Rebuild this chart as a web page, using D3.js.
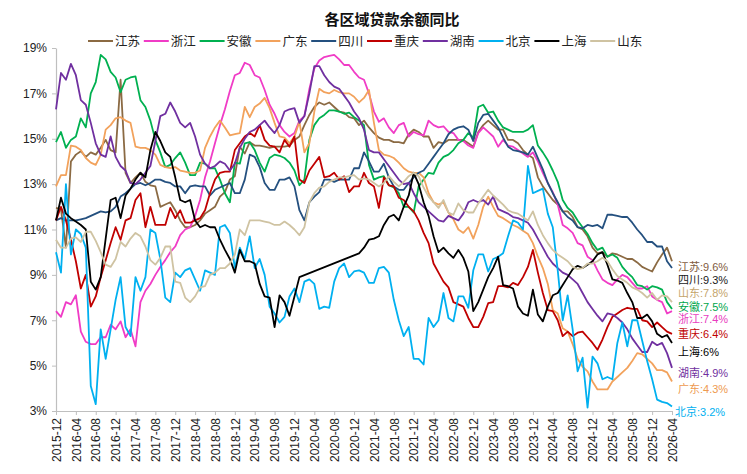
<!DOCTYPE html>
<html>
<head>
<meta charset="utf-8">
<script src="https://cdn.jsdelivr.net/npm/d3@7"></script>
<style>
body { margin: 0; background: #fff; }
svg { display: block; font-family: "Liberation Sans", Arial, "Noto Sans CJK SC", sans-serif; }
</style>
</head>
<body>
<svg id="chart"></svg>
<script>
// 月份：2015-12 ~ 2026-04
var months = d3.timeMonth.range(new Date(2015, 11, 1), new Date(2026, 4, 1)).map(d3.timeFormat("%Y-%m"));
var yTicks = [3, 5, 7, 9, 11, 13, 15, 17, 19];

var jiangsu = [11.95,11.9,10.2,14.0,14.3,14.45,14.2,14.4,14.3,14.6,
  14.95,14.5,14.4,17.6,13.5,13.05,13.3,13.5,13.1,12.95,
  12.9,12.0,12.1,12.2,11.85,11.4,11.1,11.1,11.2,11.4,
  11.7,11.85,12.0,12.45,12.65,13.2,13.35,14.65,14.35,14.85,
  14.7,14.7,14.65,14.6,14.65,14.65,14.65,14.7,14.95,15.1,
  15.6,16.05,16.4,16.6,16.5,16.6,16.4,16.2,16.15,15.95,
  15.9,15.6,15.8,15.5,15.25,15.05,14.95,14.95,14.85,14.85,
  14.8,15.2,15.4,15.3,15.1,15.1,14.6,14.85,14.8,14.95,
  14.95,14.95,14.95,14.8,14.65,15.3,15.6,15.8,15.6,15.4,
  15.4,14.95,14.95,14.8,14.5,14.3,14.15,13.3,12.9,12.6,
  12.3,12.1,11.8,11.8,11.55,11.1,11.0,10.7,10.2,9.95,
  10.0,9.8,9.95,9.9,9.8,9.7,9.7,9.55,9.35,9.25,
  9.15,9.55,9.9,10.2,9.6];

var zhejiang = [7.4,7.15,7.8,7.7,8.1,6.5,6.05,5.95,5.95,6.25,
  6.25,6.8,6.6,6.95,6.25,6.6,5.85,7.8,8.3,8.6,
  9.0,9.35,9.65,10.0,10.25,10.75,11.0,11.1,11.6,12.3,
  13.3,14.0,14.8,15.6,16.3,17.1,17.8,17.9,18.35,18.25,
  17.8,17.7,17.15,16.5,16.1,15.6,15.3,15.1,15.25,15.8,
  16.0,17.2,18.1,18.45,18.6,18.65,18.7,18.5,18.25,18.25,
  17.95,17.7,17.6,17.0,16.2,15.75,15.9,15.5,15.25,15.6,
  15.7,15.1,15.3,15.2,15.15,15.8,15.6,15.5,15.55,15.3,
  15.25,14.95,14.9,14.7,14.6,15.25,15.5,15.3,15.1,14.65,
  14.95,14.7,14.65,14.5,14.35,14.2,14.4,14.0,13.5,13.05,
  12.65,12.1,11.2,11.05,10.85,10.4,10.3,9.8,9.65,9.2,
  8.8,8.65,8.55,8.8,9.0,8.9,8.65,8.4,8.4,8.5,
  8.05,7.9,7.8,7.3,7.4];

var anhui = [14.85,15.3,14.6,14.95,15.1,15.9,15.5,17.0,17.5,18.7,
  18.5,17.95,17.7,17.05,17.6,17.7,17.75,16.7,16.4,15.8,
  14.95,14.4,13.75,13.85,14.15,14.4,13.95,13.4,13.4,13.95,
  13.9,13.7,13.7,13.2,12.6,12.2,13.95,13.9,14.8,14.85,
  14.5,13.95,13.55,14.15,14.3,14.25,14.15,13.95,13.6,12.95,
  13.2,14.95,15.6,15.9,16.05,16.25,16.25,16.2,16.1,16.15,
  15.95,15.8,15.6,13.85,13.2,13.3,13.35,12.95,12.85,12.6,
  12.0,12.0,11.75,12.9,13.2,13.5,13.45,13.95,14.2,14.3,
  14.5,14.8,14.95,15.25,15.05,16.4,16.5,16.15,16.2,15.8,
  15.5,15.4,15.3,15.3,15.3,15.4,15.6,14.7,14.4,14.05,
  13.6,13.1,12.3,11.95,11.75,11.4,11.1,10.8,10.4,10.1,
  10.2,9.8,9.9,9.75,9.35,9.1,8.9,8.55,8.5,8.35,
  8.5,8.45,8.35,7.8,7.5];

var guangdong = [12.9,13.4,13.4,14.7,14.65,14.5,14.15,13.95,13.85,14.3,
  15.4,15.6,15.9,15.95,15.8,15.7,14.65,14.6,14.6,14.5,
  14.3,13.85,13.75,13.7,13.75,13.6,13.55,13.5,13.5,13.6,
  14.6,15.1,15.5,15.8,15.5,15.15,15.2,15.25,16.4,15.95,
  16.4,16.55,16.8,16.35,15.7,15.1,15.05,14.8,15.1,15.75,
  14.4,14.8,16.2,17.2,17.05,17.0,17.15,17.05,17.0,17.0,
  16.85,16.6,16.8,17.15,15.7,14.5,14.3,14.25,14.15,13.95,
  13.7,13.55,13.5,13.5,13.3,12.6,12.2,12.1,12.2,11.75,
  11.45,11.0,10.85,11.1,10.6,11.2,12.0,12.45,12.0,11.6,
  11.5,11.35,11.2,11.1,10.95,10.8,10.4,9.8,9.3,8.6,
  7.45,7.3,6.65,6.5,5.95,5.3,4.95,4.75,4.3,3.95,
  3.95,3.95,4.3,4.5,4.7,4.9,5.2,5.55,5.5,5.3,
  5.1,4.8,4.8,4.7,4.3];

var sichuan = [11.4,11.5,11.4,11.4,11.4,11.45,11.5,11.6,11.7,11.8,
  11.75,11.8,12.0,12.45,12.6,12.8,13.0,13.05,12.95,13.05,
  13.2,13.2,13.1,13.05,12.9,12.9,12.6,12.9,12.95,12.9,
  12.9,12.5,12.75,12.85,12.95,13.05,12.6,12.6,13.2,14.3,
  14.2,13.75,13.05,12.75,12.75,13.2,13.2,13.3,12.9,11.85,
  11.4,12.2,12.45,12.65,13.2,13.2,13.1,13.2,13.2,13.2,
  13.7,13.7,14.4,14.0,13.55,13.55,13.9,13.3,12.9,12.75,
  12.75,13.05,13.3,13.5,13.6,13.9,14.2,14.5,14.8,15.2,
  15.4,15.5,15.55,15.4,14.9,15.7,16.05,16.1,15.8,15.5,
  15.05,14.65,14.5,14.45,14.4,14.3,14.65,14.15,13.65,13.05,
  12.6,12.2,11.8,11.55,11.4,11.1,11.05,11.2,11.15,11.2,
  11.05,11.65,11.65,11.6,11.55,11.55,11.3,11.0,10.75,10.45,
  10.45,10.25,10.25,9.6,9.3];

var chongqing = [11.4,12.0,11.4,10.55,9.6,8.4,9.0,7.6,8.05,8.9,
  9.65,10.4,11.1,10.55,11.4,11.5,12.3,12.6,11.1,12.0,
  11.2,11.2,11.2,11.95,11.5,11.85,11.3,11.3,11.4,11.5,
  11.85,12.6,13.2,13.5,13.55,13.55,14.5,14.8,15.1,15.25,
  15.1,15.6,14.95,14.7,14.65,14.4,14.95,14.65,15.1,13.2,
  13.05,13.6,13.9,14.2,13.3,13.35,13.5,13.2,13.35,12.65,
  12.9,12.9,13.5,13.05,12.9,11.95,13.3,12.95,12.9,12.4,
  12.3,12.0,11.8,11.4,10.85,10.4,9.5,9.1,8.7,8.45,
  7.8,7.7,7.6,7.1,6.7,6.7,7.15,7.75,7.8,8.5,
  8.5,8.45,8.65,8.55,8.9,9.35,10.1,9.1,8.2,7.45,
  7.4,7.0,6.3,6.5,6.3,6.45,6.5,6.25,6.0,5.7,
  6.15,6.7,7.15,7.3,7.45,7.55,7.5,7.5,7.0,6.95,
  6.7,6.9,6.7,6.5,6.4];

var hunan = [16.3,17.9,17.6,18.3,17.8,16.7,16.5,15.7,14.8,14.3,
  14.2,15.1,14.2,13.8,13.6,13.05,13.0,13.2,13.5,13.8,
  14.9,16.0,16.1,16.6,16.2,15.7,15.5,15.7,15.1,14.3,
  13.9,13.7,13.8,14.0,13.9,13.6,13.9,14.6,15.0,15.3,
  15.4,15.6,15.8,15.5,15.25,15.6,16.2,16.3,16.35,15.7,
  16.0,17.0,18.2,18.2,17.8,17.5,17.3,17.2,16.9,16.6,
  16.2,15.9,15.4,14.5,14.4,14.4,14.1,13.8,13.5,13.2,
  13.0,13.05,12.6,12.2,12.0,11.8,11.6,11.4,11.35,11.6,
  11.5,11.4,11.7,12.2,12.3,12.2,12.3,12.1,12.45,11.9,
  11.8,11.7,11.55,11.5,11.4,11.3,11.0,10.6,10.2,9.8,
  9.5,9.3,9.1,9.0,8.8,8.6,8.2,7.8,7.5,7.2,
  6.95,7.3,7.25,7.1,6.9,6.6,6.2,5.9,5.6,5.6,
  6.05,5.9,6.0,5.55,4.9];

var beijing = [10.0,9.1,13.0,9.9,11.0,10.8,10.2,4.1,3.3,6.6,
  5.3,6.6,7.9,8.9,6.7,6.3,8.9,8.3,8.9,11.0,
  10.85,9.7,8.0,7.8,9.1,8.9,9.2,9.3,8.8,8.3,
  9.2,9.1,9.0,11.1,11.2,10.85,9.3,10.2,9.7,10.7,
  9.3,9.7,9.0,7.6,7.3,6.9,7.15,8.05,8.4,7.8,
  8.7,8.8,8.6,7.5,7.6,7.55,8.7,9.3,9.5,8.9,
  9.15,9.2,9.1,8.65,8.65,9.3,9.35,9.1,7.9,7.0,
  6.3,6.7,5.3,5.3,5.05,7.1,6.7,7.0,8.2,7.1,
  6.95,8.05,8.05,7.55,9.2,9.9,9.9,9.15,9.7,9.8,
  9.95,10.7,11.4,11.3,11.0,13.8,12.6,12.7,12.8,11.7,
  11.1,9.2,7.0,8.1,6.6,4.75,5.35,3.15,5.4,5.1,
  4.4,4.5,4.4,6.0,6.9,5.85,7.0,7.0,6.1,5.2,
  4.4,3.5,3.4,3.35,3.2];

// 上海 2020年部分月份缺数，折线直接相连
var shanghai = [11.4,12.4,11.7,11.5,11.35,11.2,11.0,8.7,8.35,8.9,
  10.6,12.3,12.4,11.5,12.5,12.8,13.2,13.5,13.3,14.5,
  15.3,14.9,14.4,14.2,13.3,12.3,12.2,12.3,11.4,11.1,
  11.2,11.1,11.1,10.55,10.1,9.7,9.1,10.1,9.6,9.6,
  9.5,8.6,8.05,8.0,6.7,8.1,7.8,7.2,8.05,8.9,
  null,null,null,null,null,null,null,null,null,null,
  null,9.95,10.2,10.55,10.6,10.7,11.2,11.55,11.65,11.4,
  12.0,12.5,13.5,13.0,12.2,11.6,10.7,10.0,10.2,9.95,
  9.75,10.1,9.75,9.15,7.4,7.8,8.35,8.9,9.3,9.8,
  8.55,8.5,8.4,7.6,7.3,7.2,8.35,7.25,6.95,7.6,
  8.1,8.2,8.55,8.9,9.25,9.4,9.3,9.45,9.6,9.9,
  10.0,9.45,8.8,8.75,8.65,8.2,7.8,7.1,7.1,7.25,
  6.95,6.4,6.25,6.35,6.0];

var shandong = [10.55,10.2,10.2,10.6,10.65,10.45,10.9,10.9,10.5,10.0,
  9.45,9.35,9.7,10.45,10.25,10.6,10.85,10.7,10.25,9.65,
  9.45,9.75,10.25,10.25,8.7,8.65,8.0,7.8,8.05,8.45,
  8.5,9.0,9.1,9.3,9.3,9.5,9.9,11.0,10.75,11.4,
  11.4,11.4,11.35,11.3,11.2,11.2,11.35,11.2,11.0,10.75,
  11.1,12.2,12.6,12.85,12.9,13.1,13.2,13.3,13.3,13.35,
  13.4,13.2,13.25,13.2,13.05,12.9,13.05,13.35,13.1,12.9,
  13.1,13.35,13.5,13.35,12.85,12.45,12.2,11.95,12.3,11.75,
  11.65,12.15,11.85,11.75,11.75,12.15,12.45,12.75,12.5,12.3,
  12.1,11.85,11.75,11.7,11.55,11.4,11.8,11.2,10.75,10.4,
  10.1,9.9,9.75,9.6,9.35,9.25,9.3,9.5,9.5,9.6,
  9.75,9.6,9.25,8.95,8.8,8.65,8.45,8.35,8.2,8.0,
  8.2,7.9,8.1,8.05,7.8];

var series = [
  { name: "江苏", values: jiangsu,   color: "#8B6A43", label: "#7F5B3E" },
  { name: "浙江", values: zhejiang,  color: "#F03CC6", label: "#E83CC0" },
  { name: "安徽", values: anhui,     color: "#00B050", label: "#00A64B" },
  { name: "广东", values: guangdong, color: "#F2A25C", label: "#EE9A50" },
  { name: "四川", values: sichuan,   color: "#24507F", label: "#1A1A1A" },
  { name: "重庆", values: chongqing, color: "#C00000", label: "#C00000" },
  { name: "湖南", values: hunan,     color: "#7030A0", label: "#7030A0" },
  { name: "北京", values: beijing,   color: "#00B0F0", label: "#00B0F0" },
  { name: "上海", values: shanghai,  color: "#000000", label: "#000000" },
  { name: "山东", values: shandong,  color: "#CFC3A2", label: "#C4A46C" }
];

var width = 747, height = 474;
var svg = d3.select("#chart").attr("width", width).attr("height", height);

var x = d3.scaleLinear().domain([0, months.length - 1]).range([56, 672]);
var y = d3.scaleLinear().domain([3, 19]).range([411, 48]);

// 标题
svg.append("text")
  .attr("x", 392).attr("y", 25)
  .attr("text-anchor", "middle")
  .style("font-family", "'Noto Sans CJK SC', sans-serif")
  .style("font-size", "15px").style("font-weight", "bold")
  .attr("fill", "#111")
  .text("各区域贷款余额同比");

// 图例
var legend = svg.append("g").attr("transform", "translate(88,41)");
var item = legend.selectAll("g").data(series).enter().append("g")
  .attr("transform", function (d, i) { return "translate(" + (i * 55.8) + ",0)"; });
item.append("line").attr("x1", 0).attr("x2", 25).attr("y1", 0).attr("y2", 0)
  .attr("stroke", function (d) { return d.color; }).attr("stroke-width", 2);
item.append("text").attr("x", 27).attr("y", 0).attr("dy", "0.36em")
  .style("font-family", "'Noto Sans CJK SC', sans-serif")
  .style("font-size", "12.5px").attr("fill", "#222")
  .text(function (d) { return d.name; });

// 坐标轴
var yAxis = svg.append("g").attr("transform", "translate(56,0)")
  .call(d3.axisLeft(y).tickValues(yTicks).tickFormat(function (d) { return d + "%"; })
    .tickSize(4).tickSizeOuter(0).tickPadding(5));
var xAxis = svg.append("g").attr("transform", "translate(0,411)")
  .call(d3.axisBottom(x).tickValues(d3.range(0, months.length, 4))
    .tickFormat(function (i) { return months[i]; }).tickSize(4).tickSizeOuter(0));
xAxis.selectAll("text")
  .attr("transform", "rotate(-90)")
  .attr("text-anchor", "end")
  .attr("x", -7).attr("y", 0).attr("dy", "0.35em");

[yAxis, xAxis].forEach(function (g) {
  g.select(".domain").attr("stroke", "#BFBFBF").attr("stroke-width", 1.2);
  g.selectAll(".tick line").attr("stroke", "#BFBFBF");
  g.selectAll(".tick text").attr("fill", "#222").style("font-size", "12px")
    .style("font-family", "'Liberation Sans', Arial, sans-serif");
});

// 折线
var line = d3.line()
  .x(function (d) { return x(d.i); })
  .y(function (d) { return y(d.v); });

svg.append("g").selectAll("path").data(series).enter().append("path")
  .attr("fill", "none")
  .attr("stroke", function (d) { return d.color; })
  .attr("stroke-width", 1.8)
  .attr("stroke-linejoin", "round")
  .attr("d", function (d) {
    var pts = d.values.map(function (v, i) { return { i: i, v: v }; })
      .filter(function (p) { return p.v != null; });
    return line(pts);
  });

// 末端标注（手动错开以免重叠）
var labelNudge = { "江苏": 5.4, "四川": 11.9, "山东": -8.8, "安徽": -2.1, "浙江": 8.3,
  "重庆": 0.4, "上海": 8.8, "湖南": 4.8, "广东": 7.8, "北京": 5.8 };
svg.append("g").selectAll("text").data(series).enter().append("text")
  .attr("x", function (d) { return d.name === "北京" ? 675 : 678; })
  .attr("y", function (d) { return y(d.values[d.values.length - 1]) + labelNudge[d.name]; })
  .attr("dy", "0.35em")
  .attr("fill", function (d) { return d.label; })
  .style("font-size", "11px")
  .text(function (d) {
    var v = d.values[d.values.length - 1];
    return d.name + ":" + d3.format("~g")(v) + "%";
  });
</script>
</body>
</html>
